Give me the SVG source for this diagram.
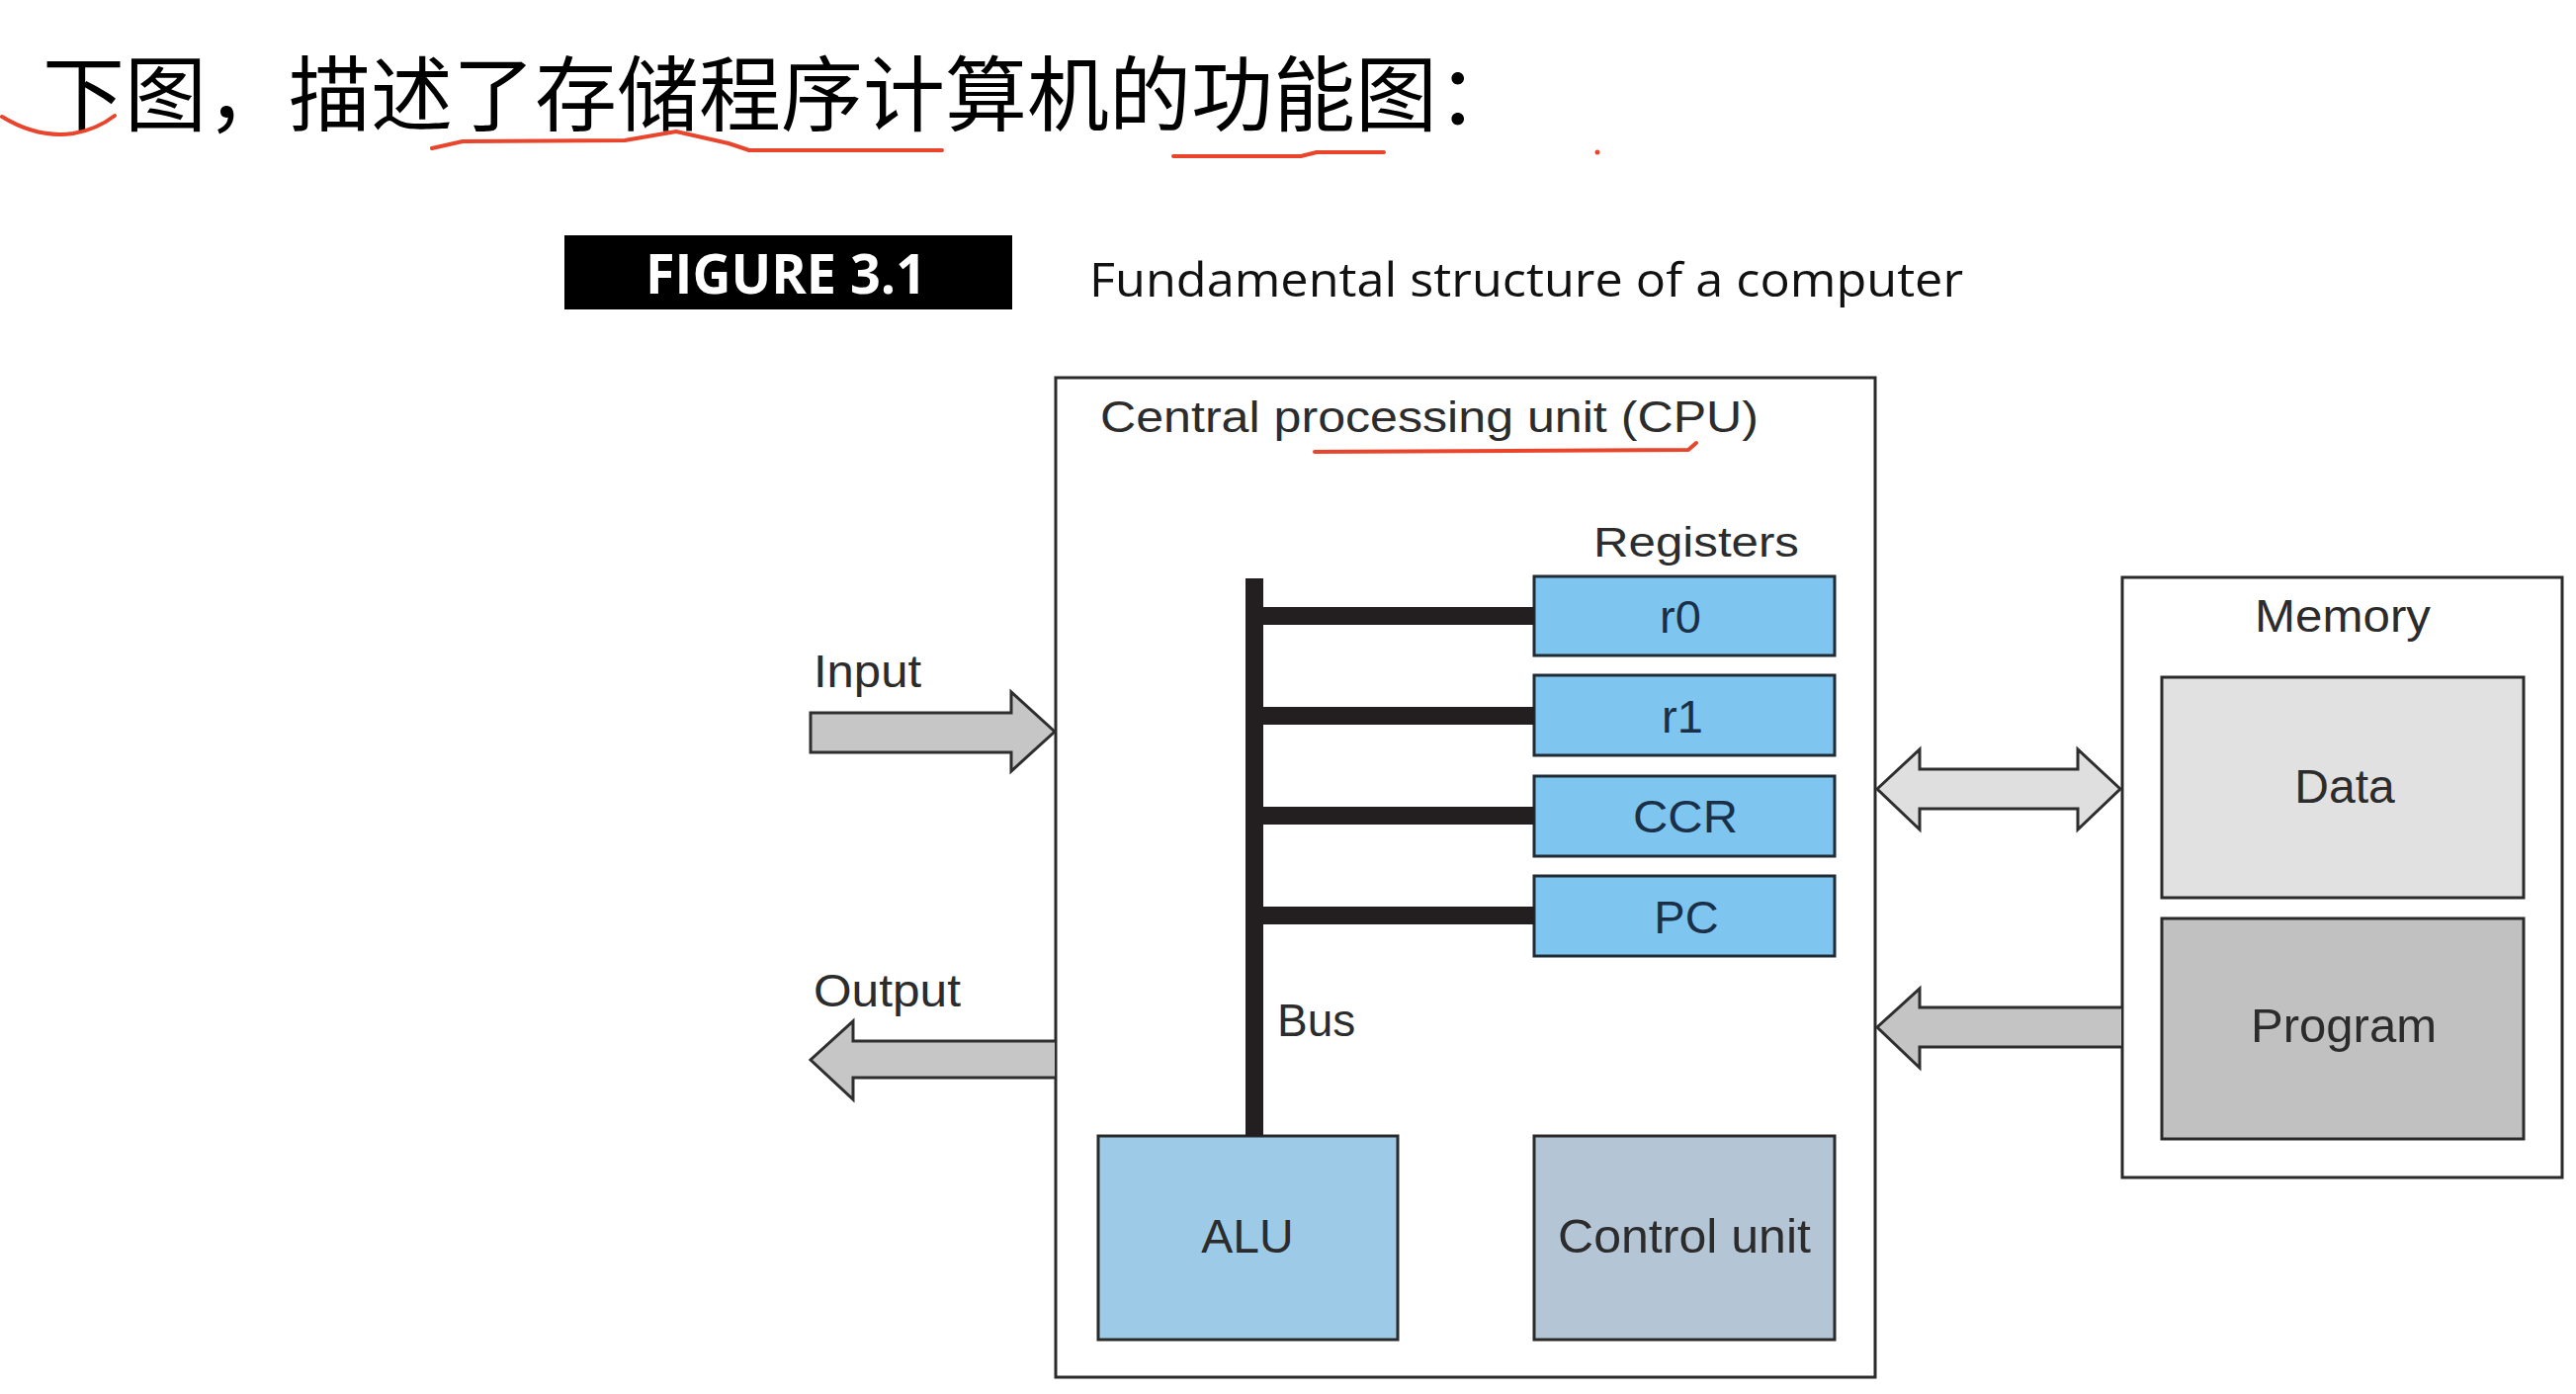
<svg xmlns="http://www.w3.org/2000/svg" width="2606" height="1410" viewBox="0 0 2606 1410">
<style>
  .lbl{font-family:"Liberation Sans",Arial,sans-serif;fill:#2c2c2c;}
  .reg{font-family:"Liberation Sans",Arial,sans-serif;fill:#1a2f48;font-size:47px;text-anchor:middle;}
  .box{stroke:#2a2a2a;stroke-width:3;}
  .regbox{fill:#7ec5ef;stroke:#1f2b35;stroke-width:3;}
  .arrow{stroke:#2e2e2e;stroke-width:3;stroke-linejoin:miter;}
  .bus{fill:#231f20;}
  .red{fill:none;stroke:#e8452c;stroke-width:4;stroke-linecap:round;stroke-linejoin:round;}
</style>
<rect width="2606" height="1410" fill="#ffffff"/>

<g id="heading">
  <text x="43" y="126" font-family="'Noto Sans CJK SC',sans-serif" font-size="83" fill="#000">下图，描述了存储程序计算机的功能图：</text>
  <path class="red" d="M2,118 Q38,140 74,135 Q98,131 116,117"/>
  <path class="red" d="M437,150 L468,143 L632,142 L684,133 L737,145 L758,152 L953,152"/>
  <path class="red" d="M1187,158 L1316,158 L1332,154 L1400,154"/>
  <circle cx="1616" cy="154" r="2.5" fill="#e8452c"/>
</g>

<g id="figure-caption">
  <rect x="571" y="238" width="453" height="75" fill="#000"/>
  <text x="653" y="297" font-family="'Open Sans',sans-serif" font-weight="bold" font-size="56" fill="#fff" textLength="284" lengthAdjust="spacingAndGlyphs">FIGURE 3.1</text>
  <text x="1102" y="300" font-family="'Open Sans',sans-serif" font-size="47" fill="#111" textLength="884" lengthAdjust="spacingAndGlyphs">Fundamental structure of a computer</text>
</g>

<g id="cpu">
  <rect class="box" x="1068" y="382" width="829" height="1011" fill="#fff"/>
  <text class="lbl" x="1113" y="437" font-size="45" textLength="666" lengthAdjust="spacingAndGlyphs">Central processing unit (CPU)</text>
  <path class="red" d="M1330,457 L1708,455 L1716,448"/>
  <text class="lbl" x="1612" y="563" font-size="42" textLength="208" lengthAdjust="spacingAndGlyphs">Registers</text>
  <text class="lbl" x="1292" y="1048" font-size="46">Bus</text>
</g>

<g id="reg-r0">
  <rect class="regbox" x="1552" y="583" width="304" height="80"/>
  <text class="reg" x="1700" y="640">r0</text>
</g>
<g id="reg-r1">
  <rect class="regbox" x="1552" y="683" width="304" height="81"/>
  <text class="reg" x="1702" y="741">r1</text>
</g>
<g id="reg-ccr">
  <rect class="regbox" x="1552" y="785" width="304" height="81"/>
  <text class="reg" x="1705" y="842" textLength="106" lengthAdjust="spacingAndGlyphs">CCR</text>
</g>
<g id="reg-pc">
  <rect class="regbox" x="1552" y="886" width="304" height="81"/>
  <text class="reg" x="1706" y="944">PC</text>
</g>

<g id="alu">
  <rect class="box" x="1111" y="1149" width="303" height="206" fill="#9dcae6"/>
  <text class="lbl" x="1262" y="1267" font-size="48" text-anchor="middle" fill="#1f2f40">ALU</text>
</g>
<g id="control-unit">
  <rect class="box" x="1552" y="1149" width="304" height="206" fill="#b4c6d6"/>
  <text class="lbl" x="1704" y="1267" font-size="48" text-anchor="middle" textLength="256" lengthAdjust="spacingAndGlyphs">Control unit</text>
</g>

<g id="memory">
  <rect class="box" x="2147" y="584" width="445" height="607" fill="#fff"/>
  <text class="lbl" x="2370" y="639" font-size="46" text-anchor="middle" textLength="178" lengthAdjust="spacingAndGlyphs">Memory</text>
</g>
<g id="mem-data">
  <rect class="box" x="2187" y="685" width="366" height="223" fill="#e1e1e1"/>
  <text class="lbl" x="2372" y="812" font-size="48" text-anchor="middle">Data</text>
</g>
<g id="mem-program">
  <rect class="box" x="2187" y="929" width="366" height="223" fill="#c1c1c1"/>
  <text class="lbl" x="2371" y="1054" font-size="48" text-anchor="middle" textLength="188" lengthAdjust="spacingAndGlyphs">Program</text>
</g>

<g id="io-labels">
  <text class="lbl" x="823" y="695" font-size="46" textLength="109" lengthAdjust="spacingAndGlyphs">Input</text>
  <text class="lbl" x="823" y="1018" font-size="46" textLength="149" lengthAdjust="spacingAndGlyphs">Output</text>
</g>

<g id="connectors">
  <rect class="bus" x="1260" y="585" width="18" height="564"/>
  <rect class="bus" x="1260" y="614" width="292" height="18"/>
  <rect class="bus" x="1260" y="715" width="292" height="18"/>
  <rect class="bus" x="1260" y="816" width="292" height="18"/>
  <rect class="bus" x="1260" y="917" width="292" height="18"/>
  <path class="arrow" fill="#c6c6c6" d="M820,721 L1023,721 L1023,700 L1067,740 L1023,780 L1023,761 L820,761 Z"/>
  <path class="arrow" fill="#c6c6c6" d="M1067,1053 L863,1053 L863,1033 L820,1072 L863,1112 L863,1090 L1067,1090"/>
  <path class="arrow" fill="#dfdfdf" d="M1899,798 L1942,758 L1942,778 L2102,778 L2102,758 L2145,798 L2102,839 L2102,818 L1942,818 L1942,839 Z"/>
  <path class="arrow" fill="#c4c4c4" d="M2146,1019 L1942,1019 L1942,1000 L1899,1039 L1942,1080 L1942,1059 L2146,1059"/>
</g>
</svg>
